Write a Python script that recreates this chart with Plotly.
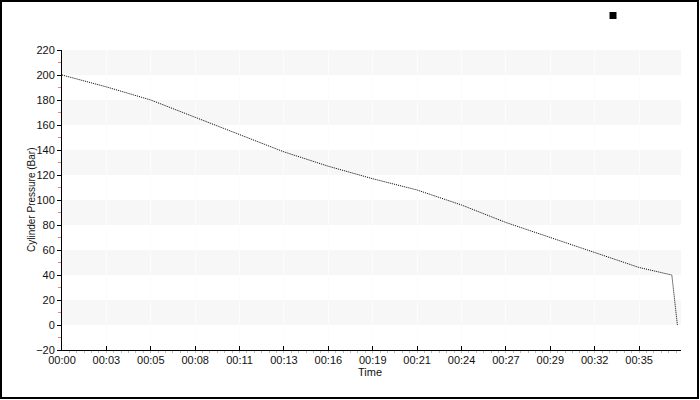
import plotly.graph_objects as go

# ---- data ----
time_s = [0, 160, 320, 480, 640, 800, 960, 1120, 1280, 1440, 1600, 1760, 1920, 2080, 2198, 2218]
pressure = [200, 190.5, 180, 166, 152, 138.5, 127, 117, 108, 96, 82, 70, 58, 46, 40, 0]

tick_vals = [0, 160, 320, 480, 640, 800, 960, 1120, 1280, 1440, 1600, 1760, 1920, 2080]
tick_text = ["00:00", "00:03", "00:05", "00:08", "00:11", "00:13", "00:16",
             "00:19", "00:21", "00:24", "00:27", "00:29", "00:32", "00:35"]
band_starts = [0, 40, 80, 120, 160, 200]
band_height = 20

x_title = "Time"
y_title = "Cylinder Pressure (Bar)"

x_max = 2231
y_range = [-20, 220]

FONT = "Liberation Sans"

fig = go.Figure()
fig.add_trace(go.Scatter(
    x=time_s, y=pressure, mode="lines",
    line=dict(color="#000000", width=1, dash="1px,1px"),
    showlegend=False, hoverinfo="skip",
))
# legend-only marker (black square at top right)
fig.add_trace(go.Scatter(
    x=[None], y=[None], mode="markers", name="",
    marker=dict(symbol="square", size=7, color="#000000",
                line=dict(color="#000000", width=0)),
    showlegend=True,
))

shapes = []
for b in band_starts:
    shapes.append(dict(type="rect", xref="paper", yref="y", x0=0, x1=1,
                       y0=b, y1=b + band_height, fillcolor="#f7f7f7",
                       line=dict(width=0), layer="below"))
# outer border of the chart
shapes.append(dict(type="rect", xref="paper", yref="paper",
                   x0=(1 - 62) / 619, x1=(698 - 62) / 619,
                   y0=(350 - 398) / 300, y1=(350 - 1) / 300,
                   line=dict(color="#000000", width=2), fillcolor="rgba(0,0,0,0)",
                   layer="above"))

annotations = [
    dict(text=x_title, xref="paper", yref="paper", x=(370 - 62) / 619, y=(350 - 365) / 300,
         xanchor="center", yanchor="top", showarrow=False, borderpad=0,
         font=dict(family=FONT, size=11, color="#111111")),
    dict(text=y_title, xref="paper", yref="paper", x=(31 - 62) / 619, y=0.5,
         xanchor="center", yanchor="middle", showarrow=False, textangle=-90,
         font=dict(family=FONT, size=10, color="#111111")),
]

fig.update_layout(
    width=700, height=400,
    margin=dict(l=62, r=19, t=50, b=50, autoexpand=False),
    paper_bgcolor="white", plot_bgcolor="white",
    font=dict(family=FONT, size=11, color="#111111"),
    shapes=shapes,
    annotations=annotations,
    showlegend=True,
    legend=dict(x=(593 - 62) / 619, y=(350 - 1) / 300, xanchor="left", yanchor="top",
                bgcolor="rgba(0,0,0,0)", font=dict(size=10)),
    xaxis=dict(
        range=[0, x_max], tickvals=tick_vals, ticktext=tick_text,
        showgrid=True, gridcolor="#fcfcfc", gridwidth=1,
        zeroline=False, showline=True, linecolor="#000000", linewidth=1,
        ticks="inside", ticklen=4, tickcolor="#000000",
        minor=dict(ticks="outside", ticklen=2, tickcolor="#bbbbbb", dtick=160 / 6, showgrid=False),
        tickfont=dict(size=11),
    ),
    yaxis=dict(
        range=y_range, tickmode="linear", tick0=-20, dtick=20,
        showgrid=False, zeroline=False, showline=True, linecolor="#000000", linewidth=1,
        ticks="outside", ticklen=4, tickcolor="#000000",
        minor=dict(ticks="outside", ticklen=3, tickcolor="#f08080", tick0=-10, dtick=20, showgrid=False),
        tickfont=dict(size=11),
    ),
)

fig.write_html(
    "out.html",
    config={"displayModeBar": False},
    post_script=(
        "document.body.style.margin='0';document.body.style.padding='0';"
        "var gd=document.getElementById('{plot_id}');"
        "gd.style.position='absolute';gd.style.left='0px';gd.style.top='0px';"
    ),
)
